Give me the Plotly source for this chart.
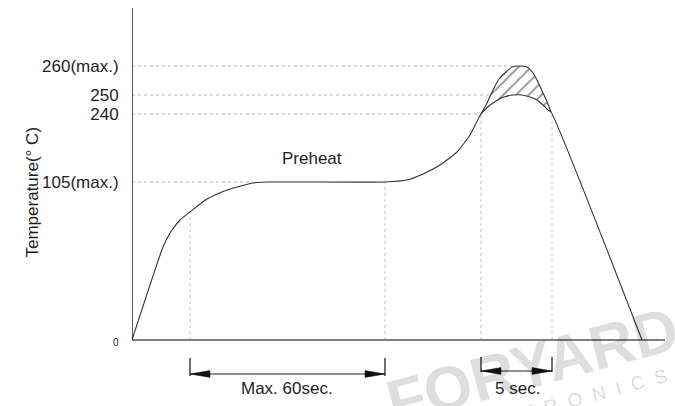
import numpy as np
import plotly.graph_objects as go

# Schematic reflow profile (drawing units, origin at the axes corner; not to scale)
rise_x = [0, 31, 38, 48, 58, 75, 95, 121, 135, 253, 275, 291, 308, 325, 338, 349]
rise_y = [0, 93, 107, 120, 128, 141, 150, 157, 158, 158, 160, 166, 175, 188, 205, 226]
peak_low_x = [349, 357, 364, 372, 381, 390, 398, 405, 411, 416, 419]
peak_low_y = [226, 234, 239, 243, 245, 245, 243, 240, 235, 230, 228]
peak_high_x = [349, 354, 361, 367, 373, 380, 388, 395, 401, 406, 411, 416, 419]
peak_high_y = [226, 235, 250, 261, 267, 273, 274, 273, 267, 258, 247, 236, 228]
fall_x = [419, 510]
fall_y = [228, 0]

# Temperature levels (schematic positions and labels)
level_vals = [0, 158, 226, 245, 274]
level_text = ["0", "105(max.)", "240", "250", "260(max.)"]
level_guide_end = [None, 121, 349, 359, 384]

# Time markers
time_marks = [58, 253, 349, 420]
interval_60 = [58, 253]
interval_5 = [349, 420]
interval_labels = ["Max. 60sec.", "5 sec."]

FONT = "Liberation Sans, Arial, sans-serif"
TXT = "#1e1e1e"
FS = 17

prof_x = rise_x + peak_low_x[1:] + fall_x[1:]
prof_y = rise_y + peak_low_y[1:] + fall_y[1:]

fig = go.Figure()

# dotted guides - horizontal
for v, e in zip(level_vals, level_guide_end):
    if e is None:
        continue
    fig.add_trace(go.Scatter(x=[0, e], y=[v, v], mode="lines",
                             line=dict(color="#b4b4b4", width=1, dash="dot"),
                             hoverinfo="skip", showlegend=False))
# dotted guides - vertical
for m in time_marks:
    top = float(np.interp(m, prof_x, prof_y))
    fig.add_trace(go.Scatter(x=[m, m], y=[0, top], mode="lines",
                             line=dict(color="#c4c4c4", width=1, dash="dot"),
                             hoverinfo="skip", showlegend=False))

# hatched region between the two peak curves
hx = peak_high_x + peak_low_x[::-1]
hy = peak_high_y + peak_low_y[::-1]
fig.add_trace(go.Scatter(x=hx, y=hy, mode="lines", fill="toself",
                         fillcolor="white", line=dict(width=0),
                         fillpattern=dict(shape="/", fgcolor="#222222", bgcolor="white",
                                          size=9, solidity=0.2),
                         hoverinfo="skip", showlegend=False))

# profile curves
fig.add_trace(go.Scatter(x=prof_x, y=prof_y, mode="lines",
                         line=dict(color="#333333", width=1.1, shape="spline", smoothing=0.5),
                         hoverinfo="skip", showlegend=False))
fig.add_trace(go.Scatter(x=peak_high_x, y=peak_high_y, mode="lines",
                         line=dict(color="#333333", width=1.1, shape="spline", smoothing=0.5),
                         hoverinfo="skip", showlegend=False))

# axis lines
fig.add_trace(go.Scatter(x=[0, 0], y=[0, 332], mode="lines",
                         line=dict(color="#111111", width=1.4),
                         hoverinfo="skip", showlegend=False))
fig.add_trace(go.Scatter(x=[0, 533], y=[0, 0], mode="lines",
                         line=dict(color="#555555", width=1.6),
                         hoverinfo="skip", showlegend=False))

# dimension arrows
def dim_arrow(x0, x1, y_line, y_top, y_bot):
    for xx in (x0, x1):
        fig.add_trace(go.Scatter(x=[xx, xx], y=[y_top, y_bot], mode="lines",
                                 line=dict(color="#222222", width=1.3),
                                 hoverinfo="skip", showlegend=False))
    fig.add_trace(go.Scatter(x=[x0, x1], y=[y_line, y_line], mode="lines",
                             line=dict(color="#222222", width=1.2),
                             hoverinfo="skip", showlegend=False))
    L, H = 20, 3.4
    for tip, d in ((x0, 1), (x1, -1)):
        fig.add_trace(go.Scatter(x=[tip, tip + d * L, tip + d * L, tip],
                                 y=[y_line, y_line + H, y_line - H, y_line],
                                 mode="lines", fill="toself", fillcolor="#111111",
                                 line=dict(color="#111111", width=0.5),
                                 hoverinfo="skip", showlegend=False))

dim_arrow(interval_60[0], interval_60[1], -34, -18, -36)
dim_arrow(interval_5[0], interval_5[1], -31, -17, -32)

annotations = []
# watermark
annotations.append(dict(xref="x", yref="y", x=400, y=-25, text="FORYARD",
                        showarrow=False, textangle=-15,
                        font=dict(family=FONT, size=62, color="rgba(0,0,0,0.13)",
                                  weight="bold")))
nb = "\u00a0\u00a0"
annotations.append(dict(xref="x", yref="y", x=418, y=-66,
                        text=nb.join(list("ELECTRONICS")),
                        showarrow=False, textangle=-15,
                        font=dict(family=FONT, size=19, color="rgba(0,0,0,0.16)")))
# texts
annotations.append(dict(xref="x", yref="y", x=180, y=182, text="Preheat", showarrow=False,
                        font=dict(family=FONT, size=FS, color=TXT)))
annotations.append(dict(xref="x", yref="y", x=sum(interval_60) / 2 - 0.5, y=-48,
                        text=interval_labels[0], showarrow=False,
                        font=dict(family=FONT, size=FS, color=TXT)))
annotations.append(dict(xref="x", yref="y", x=sum(interval_5) / 2 + 0.5, y=-48,
                        text=interval_labels[1], showarrow=False,
                        font=dict(family=FONT, size=FS, color=TXT)))
annotations.append(dict(xref="paper", yref="y", x=0, xshift=-112, y=148,
                        text="Temperature(\u00b0 C)", showarrow=False, textangle=-90,
                        font=dict(family=FONT, size=FS, color=TXT)))

ticktext = ["<span style='font-size:10px'>0</span>" if t == "0" else t for t in level_text]

fig.update_layout(
    width=675, height=406,
    margin=dict(l=132, r=10, t=8, b=0),
    paper_bgcolor="white", plot_bgcolor="white",
    showlegend=False,
    xaxis=dict(range=[0, 533], visible=False, fixedrange=True),
    yaxis=dict(range=[-66, 332], showgrid=False, zeroline=False, showline=False,
               tickvals=level_vals, ticktext=ticktext,
               ticks="outside", ticklen=9, tickcolor="rgba(0,0,0,0)",
               tickfont=dict(family=FONT, size=FS, color=TXT), fixedrange=True),
    annotations=annotations,
)

fig.write_html("out.html", config={"displayModeBar": False},
               post_script="document.body.style.margin='0';document.body.style.overflow='hidden';")
